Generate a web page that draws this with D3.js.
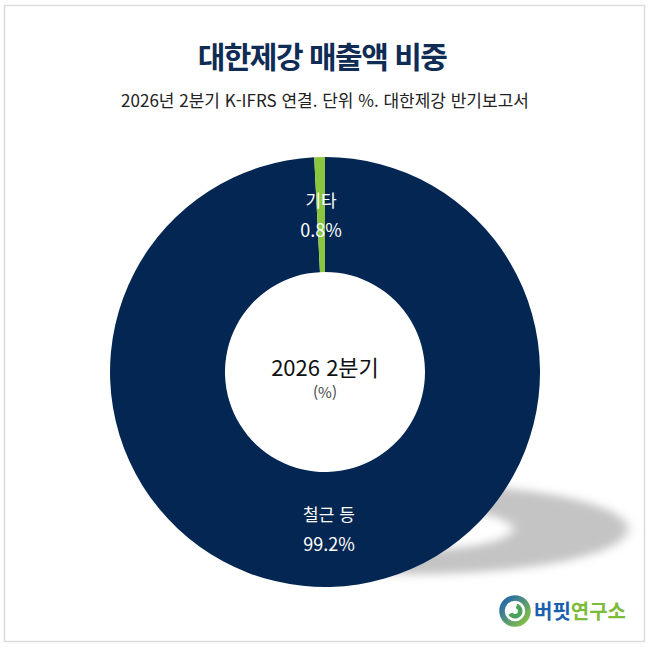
<!DOCTYPE html>
<html lang="ko">
<head>
    <meta charset="UTF-8">
    <title>대한제강 매출액 비중</title>
    <script src="https://d3js.org/d3.v7.min.js"></script>
    <style>
        body {
            margin: 0;
            padding: 0;
            background: #ffffff;
            font-family: 'Noto Sans CJK KR', 'Noto Sans', sans-serif;
        }
        svg { display: block; }
    </style>
</head>
<body>
    <svg id="chart"></svg>

    <script>
        // 데이터
        const categories = ["철근 등", "기타"];
        const values = [99.2, 0.8];
        const colors = ["#032752", "#8cc63f"];

        const titleText = "대한제강 매출액 비중";
        const subtitleText = "2026년 2분기 K-IFRS 연결. 단위 %. 대한제강 반기보고서";
        const centerLines = ["2026 2분기", "(%)"];

        const W = 650, H = 648;
        const cx = 325, cy = 372;
        const outerR = 215, innerR = 100;

        const svg = d3.select("#chart")
            .attr("width", W)
            .attr("height", H);

        const defs = svg.append("defs");

        // 그림자 블러
        defs.append("filter")
            .attr("id", "blur")
            .attr("x", "-20%").attr("y", "-80%")
            .attr("width", "140%").attr("height", "260%")
            .append("feGaussianBlur")
            .attr("stdDeviation", "6 20");

        // 로고 그라디언트
        const grad = defs.append("linearGradient")
            .attr("id", "logoGrad")
            .attr("x1", "0%").attr("y1", "0%")
            .attr("x2", "100%").attr("y2", "100%");
        grad.append("stop").attr("offset", "0%").attr("stop-color", "#1c63b0");
        grad.append("stop").attr("offset", "100%").attr("stop-color", "#8cc63f");

        // 카드 테두리
        svg.append("rect")
            .attr("x", 4.5).attr("y", 5.5)
            .attr("width", 640).attr("height", 636)
            .attr("fill", "#fff")
            .attr("stroke", "#dcdcdc")
            .attr("stroke-width", 1.5);

        // 제목
        svg.append("text")
            .attr("x", W / 2 - 3).attr("y", 68)
            .attr("text-anchor", "middle")
            .style("font-size", "30px")
            .style("font-weight", "bold")
            .style("fill", "#0f2c55")
            .style("letter-spacing", "-1.5px")
            .text(titleText);

        svg.append("text")
            .attr("x", W / 2).attr("y", 107)
            .attr("text-anchor", "middle")
            .style("font-size", "17px")
            .style("fill", "#222")
            .text(subtitleText);

        const pie = d3.pie().sort(null).value(d => d.value);
        const arcs = pie(categories.map((c, i) => ({ name: c, value: values[i] })));
        const arc = d3.arc().innerRadius(innerR).outerRadius(outerR);

        // 바닥 그림자 (도넛을 납작하게)
        svg.append("g")
            .attr("transform", `translate(${cx + 88},${cy + 157}) scale(1,0.21)`)
            .append("path")
            .attr("d", d3.arc().innerRadius(innerR).outerRadius(outerR)({ startAngle: 0, endAngle: 2 * Math.PI }))
            .attr("fill", "#c4c4c4")
            .attr("filter", "url(#blur)");

        const g = svg.append("g").attr("transform", `translate(${cx},${cy})`);

        g.selectAll("path.slice")
            .data(arcs)
            .join("path")
            .attr("class", "slice")
            .attr("d", arc)
            .attr("fill", (d, i) => colors[i]);

        // 조각 라벨
        const labels = g.selectAll("g.label")
            .data(arcs)
            .join("g")
            .attr("class", "label")
            .attr("transform", d => `translate(${arc.centroid(d)})`);

        labels.append("text")
            .attr("y", -8)
            .attr("text-anchor", "middle")
            .style("font-size", "17px")
            .style("fill", "#fff")
            .text(d => d.data.name);

        labels.append("text")
            .attr("y", 22)
            .attr("text-anchor", "middle")
            .style("font-size", "18px")
            .style("fill", "#fff")
            .text(d => d.data.value + "%");

        // 가운데 텍스트
        g.append("text")
            .attr("y", 4)
            .attr("text-anchor", "middle")
            .style("font-size", "22px")
            .style("fill", "#111")
            .text(centerLines[0]);

        g.append("text")
            .attr("y", 26)
            .attr("text-anchor", "middle")
            .style("font-size", "15px")
            .style("fill", "#444")
            .text(centerLines[1]);

        // 로고
        const logo = svg.append("g").attr("transform", "translate(515,611)");
        logo.append("circle")
            .attr("r", 13)
            .attr("fill", "none")
            .attr("stroke", "url(#logoGrad)")
            .attr("stroke-width", 5.5);
        logo.append("path")
            .attr("d", d3.arc().innerRadius(3).outerRadius(7.5)({ startAngle: 0.3, endAngle: 4.2 }))
            .attr("fill", "#4aa35a");

        const logoText = svg.append("text")
            .attr("x", 534).attr("y", 619)
            .style("font-size", "20px")
            .style("font-weight", "bold");
        logoText.append("tspan").attr("fill", "#1c5fae").text("버핏");
        logoText.append("tspan").attr("fill", "#7dbb3a").text("연구소");
    </script>
</body>
</html>
